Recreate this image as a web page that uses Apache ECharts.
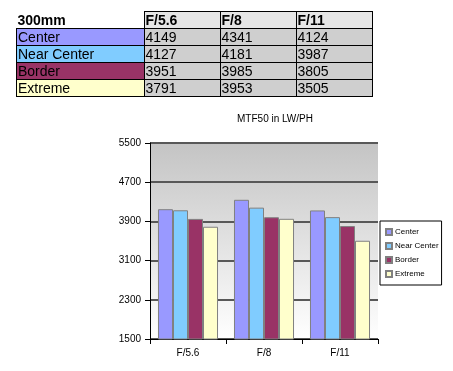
<!DOCTYPE html>
<html><head><meta charset="utf-8">
<script src="https://cdn.jsdelivr.net/npm/echarts@6/dist/echarts.min.js"></script>
<style>
html,body{margin:0;padding:0;background:#fff;}
#wrap{position:relative;width:453px;height:371px;}
#chart{position:absolute;left:0;top:0;width:453px;height:371px;}
#tbl{position:absolute;left:16px;top:11px;border-collapse:collapse;font-family:"Liberation Sans",Arial,sans-serif;font-size:14px;}
#tbl td{height:16px;padding:0 0 0 1px;line-height:16px;border:1px solid #000;white-space:nowrap;}
#tbl tr.h td{font-weight:bold;background:#e6e6e6;}
#tbl tr.h td.c0{background:#fff;border-top:none;border-left:none;}
#tbl td.v{background:#cfcfcf;}
</style></head>
<body><div id="wrap"><div id="chart"></div><table id="tbl"></table></div>
<script>
var tableTitle = '300mm';
var categories = ['F/5.6','F/8','F/11'];
var seriesNames = ['Center','Near Center','Border','Extreme'];
var center = [4149,4341,4124];
var nearCenter = [4127,4181,3987];
var border = [3951,3985,3805];
var extreme = [3791,3953,3505];
var colors = ['#9999ff','#80ccff','#993366','#ffffcc'];
var allValues = [center, nearCenter, border, extreme];

// Table
var tbl = document.getElementById('tbl');
var widths = [128,76,76,76];
var h = '<tr class="h"><td class="c0" style="width:'+(widths[0]-2)+'px">'+tableTitle+'</td>';
categories.forEach(function(c,i){ h += '<td style="width:'+(widths[i+1]-2)+'px">'+c+'</td>'; });
h += '</tr>';
seriesNames.forEach(function(n,si){
  h += '<tr><td style="background:'+colors[si]+'">'+n+'</td>';
  allValues[si].forEach(function(v){ h += '<td class="v">'+v+'</td>'; });
  h += '</tr>';
});
tbl.innerHTML = h;

var chart = echarts.init(document.getElementById('chart'));
var font = '"Liberation Sans", Arial, sans-serif';
chart.setOption({
  animation:false,
  title:{text:'MTF50 in LW/PH',left:270,top:109,textAlign:'center',textStyle:{fontFamily:font,fontSize:10,fontWeight:'normal',color:'#000'}},
  legend:{
    orient:'vertical',left:380,top:221,width:57,height:57,
    padding:[7,3,7,5],itemGap:6,itemWidth:6,itemHeight:6,icon:'rect',
    borderColor:'#000',borderWidth:1,backgroundColor:'#fff',
    textStyle:{fontFamily:font,fontSize:8,color:'#000',padding:[0,0,0,-2]},
    data:seriesNames
  },
  grid:{left:150,top:143,width:228,height:196,show:true,borderWidth:0,
    backgroundColor:new echarts.graphic.LinearGradient(0,0,0,1,[{offset:0,color:'#c4c4c4'},{offset:1,color:'#ffffff'}])},
  xAxis:{type:'category',data:categories,
    axisLine:{lineStyle:{color:'#000',width:1}},
    axisTick:{show:true,alignWithLabel:false,length:5,lineStyle:{color:'#000'}},
    axisLabel:{fontFamily:font,fontSize:10,color:'#000',margin:9}},
  yAxis:{type:'value',min:1500,max:5500,interval:800,
    axisLine:{show:true,lineStyle:{color:'#000',width:1}},
    axisTick:{show:true,length:5,lineStyle:{color:'#000'}},
    axisLabel:{fontFamily:font,fontSize:10,color:'#000',margin:9,formatter:function(v){return String(v);}},
    splitLine:{show:true,lineStyle:{color:'#585858',width:2}}},
  series:seriesNames.map(function(n,i){
    return {name:n,type:'bar',data:allValues[i],barGap:'0%',barCategoryGap:'21%',
      itemStyle:{color:colors[i],borderColor:'#808080',borderWidth:1}};
  })
});
</script></body></html>
